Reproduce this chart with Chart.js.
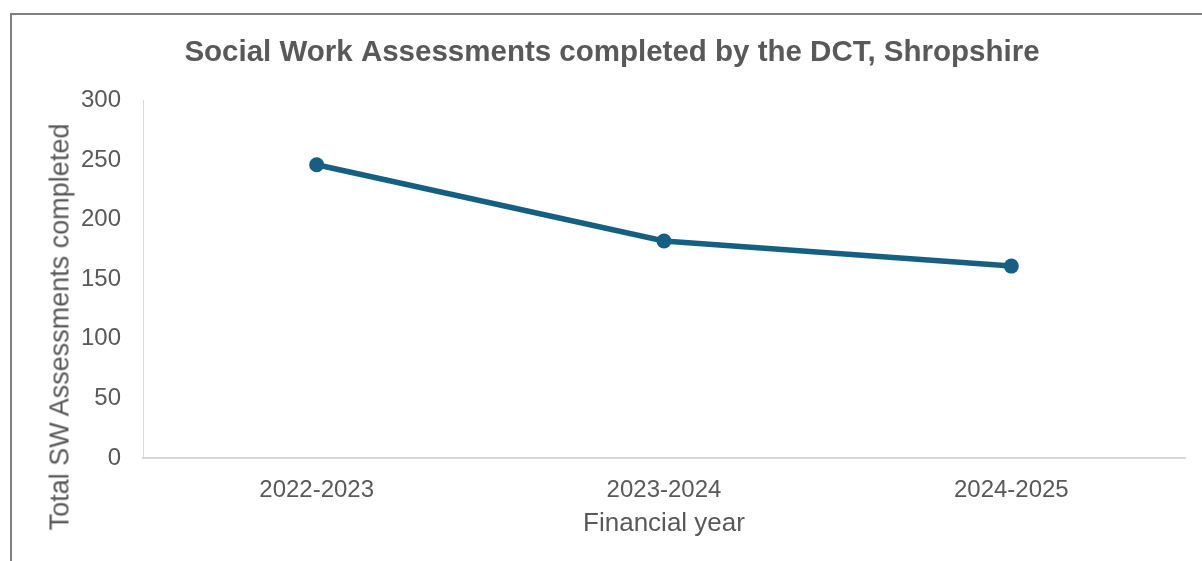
<!DOCTYPE html>
<html>
<head>
<meta charset="utf-8">
<title>Social Work Assessments completed by the DCT, Shropshire</title>
<script src="https://cdn.jsdelivr.net/npm/chart.js@4.4.1/dist/chart.umd.min.js"></script>
<style>
  html, body { margin:0; padding:0; background:#fff; overflow:hidden; }
  .wrap { position:relative; width:1202px; height:561px; overflow:hidden; }
  .frame { position:absolute; left:10px; top:13px; width:1300px; height:700px; border:2px solid #7f7f7f; box-sizing:border-box; }
  canvas { position:absolute; left:0; top:0; }
  .ytitle {
    position:absolute; left:60px; top:327px;
    transform:translate(-50%,-50%) rotate(-90deg);
    white-space:nowrap; font:27px "Liberation Sans", Arial, sans-serif; color:#595959;
  }
</style>
</head>
<body>
<div class="wrap">
  <div class="frame"></div>
  <canvas id="swChart" width="1202" height="561"></canvas>
  <div class="ytitle">Total SW Assessments completed</div>
</div>
<script>
// 데이터
const years = ['2022-2023', '2023-2024', '2024-2025'];
const assessments = [246, 182, 161];
const yMin = 0, yMax = 300, yStep = 50;

const TXT = '#595959';
const LINE = '#156082';
const FONT = '"Liberation Sans", Arial, sans-serif';

function byId(id){ return document.getElementById(id); }

new Chart(byId('swChart').getContext('2d'), {
  type: 'line',
  data: {
    labels: years,
    datasets: [{
      data: assessments,
      borderColor: LINE,
      backgroundColor: LINE,
      borderWidth: 5.5,
      pointRadius: 7.5,
      pointHoverRadius: 7.5,
      pointBorderWidth: 0,
      tension: 0,
      fill: false
    }]
  },
  options: {
    responsive: false,
    animation: false,
    layout: { padding: { left: 39, right: 17, top: 0, bottom: 0 } },
    plugins: {
      legend: { display: false },
      tooltip: { enabled: false },
      title: {
        display: true,
        text: 'Social Work Assessments completed by the DCT, Shropshire',
        color: TXT,
        font: { family: FONT, size: 29.5, weight: 'bold' },
        padding: { top: 35, bottom: 30 }
      }
    },
    scales: {
      x: {
        offset: true,
        grid: { display: false, drawTicks: false },
        border: { display: true, color: '#d9d9d9', width: 2 },
        ticks: { color: TXT, font: { family: FONT, size: 24 }, padding: 18, maxRotation: 0 },
        title: {
          display: true, text: 'Financial year', color: TXT,
          font: { family: FONT, size: 26 }, padding: { top: 0, bottom: 22 }
        },
        afterFit: s => { s.height = 103; }
      },
      y: {
        min: yMin, max: yMax,
        grid: { display: false, drawTicks: false },
        border: { display: true, color: '#d9d9d9', width: 1 },
        ticks: { stepSize: yStep, color: TXT, font: { family: FONT, size: 24 }, padding: 22 },
        afterFit: s => { s.width = 104; }
      }
    }
  }
});
</script>
</body>
</html>
